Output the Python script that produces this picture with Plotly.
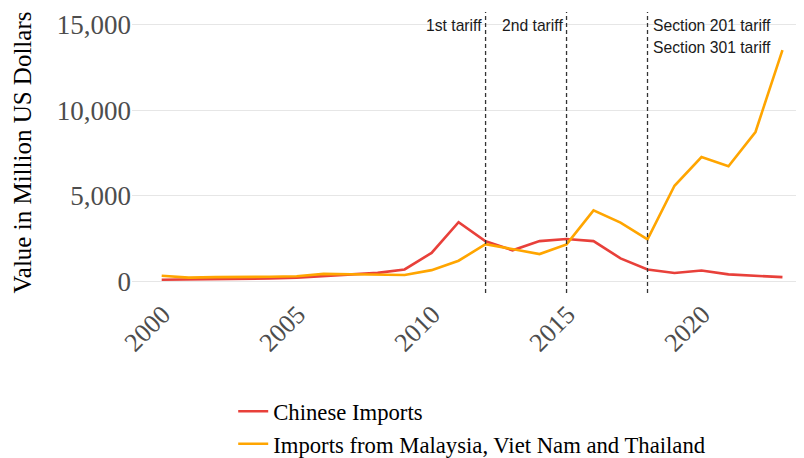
import plotly.graph_objects as go

years = list(range(2000, 2024))
chinese = [80, 90, 100, 120, 150, 200, 300, 400, 480, 680, 1650, 3450,
           2330, 1800, 2340, 2460, 2340, 1330, 680, 470, 620, 390, 310, 230]
sea = [310, 200, 230, 230, 250, 280, 420, 400, 380, 350, 640, 1190,
       2160, 1850, 1580, 2150, 4140, 3420, 2440, 5580, 7260, 6720, 8730, 13530]

tariff_years = [2012, 2015, 2018]
y_ticks = [0, 5000, 10000, 15000]
x_ticks = [2000, 2005, 2010, 2015, 2020]

fig = go.Figure()
fig.add_trace(go.Scatter(x=years, y=chinese, mode="lines", name="Chinese Imports",
                         line=dict(color="#E8403A", width=2.6)))
fig.add_trace(go.Scatter(x=years, y=sea, mode="lines",
                         name="Imports from Malaysia, Viet Nam and Thailand",
                         line=dict(color="#FFA500", width=2.6)))

for ty in tariff_years:
    fig.add_shape(type="line", x0=ty, x1=ty, y0=0, y1=1, xref="x", yref="paper",
                  line=dict(color="#333333", width=1.3, dash="4px,3px"))

ann_font = dict(family="Liberation Sans, Arial, sans-serif", size=15.7, color="#1a1a1a")
fig.add_annotation(x=2012, y=14950, text="1st tariff", showarrow=False,
                   xanchor="right", xshift=-2, font=ann_font)
fig.add_annotation(x=2015, y=14950, text="2nd tariff", showarrow=False,
                   xanchor="right", xshift=-2, font=ann_font)
fig.add_annotation(x=2018, y=14950, text="Section 201 tariff", showarrow=False,
                   xanchor="left", xshift=3, font=ann_font)
fig.add_annotation(x=2018, y=13700, text="Section 301 tariff", showarrow=False,
                   xanchor="left", xshift=3, font=ann_font)

serif = "Liberation Serif, Times New Roman, serif"
fig.update_layout(
    width=796, height=450,
    margin=dict(l=124, r=4, t=4, b=165),
    plot_bgcolor="white", paper_bgcolor="white",
    showlegend=True,
    legend=dict(x=0.1515, y=0.151, xref="paper", yref="container",
                xanchor="left", yanchor="top",
                font=dict(family=serif, size=22.7, color="#000000"),
                bgcolor="rgba(0,0,0,0)", tracegroupgap=0),
    xaxis=dict(range=[1998.9, 2023.65], tickvals=x_ticks, tickangle=-45,
               automargin=False, ticklabelshift=1,
               showgrid=True, gridcolor="white", gridwidth=1.5, zeroline=False,
               showline=False, ticks="",
               tickfont=dict(family=serif, size=26, color="#4D4D4D")),
    yaxis=dict(range=[-700, 15760], tickvals=y_ticks, tickformat=",",
               automargin=False,
               showgrid=True, gridcolor="#E6E6E6", gridwidth=1, zeroline=False,
               showline=False, ticks="",
               tickfont=dict(family=serif, size=27, color="#4D4D4D"),
               title=dict(text="Value in Million US Dollars",
                          font=dict(family=serif, size=25, color="#000000"),
                          standoff=18)),
)

fig.write_html("out.html")
